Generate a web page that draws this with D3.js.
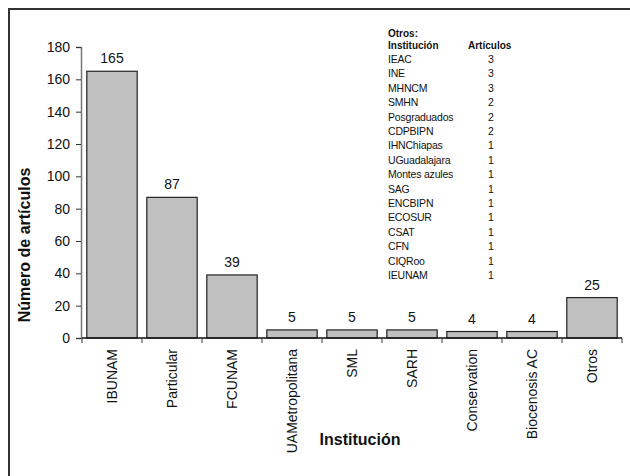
<!DOCTYPE html>
<html>
<head>
<meta charset="utf-8">
<script src="https://cdn.jsdelivr.net/npm/d3@7"></script>
<style>
  html, body { margin: 0; padding: 0; background: #fff; }
  svg { display: block; font-family: "Liberation Sans", Arial, sans-serif; }
</style>
</head>
<body>
<svg id="chart" width="630" height="476"></svg>
<script>
// Main series: articles per institution
const categories = ["IBUNAM", "Particular", "FCUNAM", "UAMetropolitana", "SML", "SARH", "Conservation", "Biocenosis AC", "Otros"];
const articles = [165, 87, 39, 5, 5, 5, 4, 4, 25];
const yTicks = [0, 20, 40, 60, 80, 100, 120, 140, 160, 180];

// Breakdown of the "Otros" group
const otrosNames = ["IEAC", "INE", "MHNCM", "SMHN", "Posgraduados", "CDPBIPN", "IHNChiapas", "UGuadalajara",
  "Montes azules", "SAG", "ENCBIPN", "ECOSUR", "CSAT", "CFN", "CIQRoo", "IEUNAM"];
const otrosCounts = [3, 3, 3, 2, 2, 2, 1, 1, 1, 1, 1, 1, 1, 1, 1, 1];

const svg = d3.select("#chart");

// Outer frame (left and top edges)
svg.append("path")
  .attr("d", "M9,476 V9 H630")
  .attr("fill", "none")
  .attr("stroke", "#333")
  .attr("stroke-width", 2);

const x = d3.scaleBand().domain(categories).range([82, 622]).paddingInner(0.16).paddingOuter(0.08);
const y = d3.scaleLinear().domain([0, 180]).range([338, 47]);

// Bars
svg.append("g").selectAll("rect")
  .data(categories)
  .join("rect")
  .attr("x", d => x(d))
  .attr("width", x.bandwidth())
  .attr("y", (d, i) => y(articles[i]))
  .attr("height", (d, i) => y(0) - y(articles[i]))
  .attr("fill", "#c0c0c0")
  .attr("stroke", "#222")
  .attr("stroke-width", 1.2);

// Value labels
svg.append("g").selectAll("text")
  .data(categories)
  .join("text")
  .attr("x", d => x(d) + x.bandwidth() / 2)
  .attr("y", (d, i) => y(articles[i]) - 8)
  .attr("text-anchor", "middle")
  .attr("font-size", 14)
  .attr("fill", "#111")
  .text((d, i) => articles[i]);

// Y axis
const yAxis = svg.append("g")
  .attr("transform", "translate(81,0)")
  .call(d3.axisLeft(y).tickValues(yTicks).tickSize(5).tickPadding(6));
yAxis.select(".domain").attr("stroke", "#777").attr("stroke-width", 1.5);
yAxis.selectAll(".tick line").attr("stroke", "#333");
yAxis.selectAll("text").attr("font-size", 14).attr("fill", "#111")
  .style("font-family", "'Liberation Sans', Arial, sans-serif");

// X axis: ticks sit at band boundaries
const xBound = d3.scaleLinear().domain([0, categories.length]).range([82, 622]);
const xg = svg.append("g");
xg.append("line")
  .attr("x1", xBound(0)).attr("x2", xBound(categories.length))
  .attr("y1", y(0)).attr("y2", y(0))
  .attr("stroke", "#111").attr("stroke-width", 1.5);
xg.selectAll("line.tk")
  .data(d3.range(categories.length + 1))
  .join("line")
  .attr("class", "tk")
  .attr("x1", d => xBound(d)).attr("x2", d => xBound(d))
  .attr("y1", y(0)).attr("y2", y(0) + 5)
  .attr("stroke", "#333");

// Category labels, rotated
xg.selectAll("text")
  .data(categories)
  .join("text")
  .attr("transform", d => `translate(${x(d) + x.bandwidth() / 2 + 5},349) rotate(-90)`)
  .attr("text-anchor", "end")
  .attr("font-size", 14)
  .attr("fill", "#111")
  .text(d => d);

// Axis titles
svg.append("text")
  .attr("x", 360).attr("y", 445)
  .attr("text-anchor", "middle")
  .attr("font-size", 16).attr("font-weight", "bold")
  .attr("fill", "#111")
  .text("Institución");

svg.append("text")
  .attr("transform", "translate(30,245) rotate(-90)")
  .attr("text-anchor", "middle")
  .attr("font-size", 16).attr("font-weight", "bold")
  .attr("fill", "#111")
  .text("Número de artículos");

// Inset table for "Otros"
const tbl = svg.append("g").attr("font-size", 10.5).attr("fill", "#111");
tbl.append("text").attr("x", 388).attr("y", 37).attr("font-size", 10).attr("font-weight", "bold").text("Otros:");
tbl.append("text").attr("x", 388).attr("y", 49).attr("font-size", 10).attr("font-weight", "bold").text("Institución");
tbl.append("text").attr("x", 468).attr("y", 49).attr("font-size", 10).attr("font-weight", "bold").text("Artículos");
const rowY = d3.scaleLinear().domain([0, otrosNames.length - 1]).range([63, 279]);
tbl.selectAll("text.nm")
  .data(otrosNames)
  .join("text")
  .attr("class", "nm")
  .attr("x", 388)
  .attr("y", (d, i) => rowY(i))
  .attr("letter-spacing", -0.2)
  .text(d => d);
tbl.selectAll("text.ct")
  .data(otrosCounts)
  .join("text")
  .attr("class", "ct")
  .attr("x", 491)
  .attr("y", (d, i) => rowY(i))
  .attr("text-anchor", "middle")
  .text(d => d);
</script>
</body>
</html>
